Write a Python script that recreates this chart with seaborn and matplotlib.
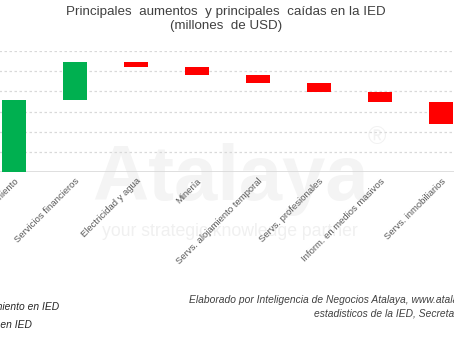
import numpy as np
import pandas as pd
import matplotlib
matplotlib.use("Agg")
import matplotlib.pyplot as plt
import matplotlib.patches as mpatches
import seaborn as sns

# ---- data (millones de USD) ----
categories = ["Crecimiento", "Servicios financieros", "Electricidad y agua", "Minería",
              "Servs. alojamiento temporal", "Servs. profesionales",
              "Inform. en medios masivos", "Servs. inmobiliarios"]
changes = [1780, 955, -135, -185, -205, -235, -245, -530]
legend_labels = ["Crecimiento en IED", "Caída en IED"]
title_text = "Principales  aumentos  y principales  caídas en la IED\n(millones  de USD)"
source_line1 = "Elaborado por Inteligencia de Negocios Atalaya, www.atalaya.co.cr, con base en datos"
source_line2 = "estadisticos de la IED, Secretaría Técnica"

sns.set_style("white")
plt.rcParams["font.family"] = ["Liberation Sans", "DejaVu Sans"]

GREEN = "#00b050"
RED = "#ff0000"

# waterfall geometry
chg = np.array(changes, dtype=float)
ends = np.cumsum(chg)
starts = ends - chg
lows = np.minimum(starts, ends)
heights = np.abs(chg)
df = pd.DataFrame({"cat": categories, "low": lows, "h": heights,
                   "kind": np.where(chg >= 0, "up", "down")})

fig = plt.figure(figsize=(4.54, 3.41), dpi=100)
W, H = 454, 341
ax = fig.add_axes([-16.5 / W, 168.7 / H, 488 / W, 121.3 / H])
ax.set_facecolor("none")

# faint watermark (behind the axes)
fig.text(230 / W, 1 - 200 / H, "Atalaya", fontsize=56, fontweight="bold", color="#f4f4f4",
         ha="center", va="baseline", zorder=-2)
fig.text(377 / W, 1 - 137 / H, "®", fontsize=18, color="#f2f2f2", ha="center", va="center",
         zorder=-2)
fig.text(230 / W, 1 - 232 / H, "your strategic knowledge partner", fontsize=12.7,
         color="#f0f0f0", ha="center", va="center", zorder=-2)

up = df[df.kind == "up"]
down = df[df.kind == "down"]
sns.barplot(data=up, x="cat", y="h", order=categories, color=GREEN, width=0.4,
            bottom=up["low"].values, saturation=1, ax=ax, zorder=3, linewidth=0)
sns.barplot(data=down, x="cat", y="h", order=categories, color=RED, width=0.4,
            bottom=down["low"].values, saturation=1, ax=ax, zorder=3, linewidth=0)

ax.set_xlim(-0.5, 7.5)
ax.set_ylim(0, 3000)
ax.set_yticks(np.arange(500, 3001, 500))
ax.yaxis.grid(True, color="#d9d9d9", linestyle=(0, (2, 2)), linewidth=0.9, zorder=0)
ax.set_axisbelow(True)
ax.tick_params(axis="y", left=False, labelleft=False)
ax.axhline(0, color="#d9d9d9", linewidth=1.2, zorder=2)
for s in ["top", "right", "left", "bottom"]:
    ax.spines[s].set_visible(False)
ax.set_xlabel("")
ax.set_ylabel("")
ax.tick_params(axis="x", length=0, pad=3)
ax.set_xticks(range(len(categories)))
ax.set_xticklabels(categories, rotation=45, ha="right", rotation_mode="anchor",
                   fontsize=6.8, color="#595959")

fig.text(0.497, 1 - 6 / H, title_text, ha="center", va="top", fontsize=9.6,
         color="#404040", linespacing=1.2)

handles = [mpatches.Patch(color=GREEN), mpatches.Patch(color=RED)]
fig.legend(handles, legend_labels, loc="upper left", bbox_to_anchor=(-48 / W, 1 - 302 / H),
           frameon=False, borderpad=0, borderaxespad=0, handlelength=1.0,
           handletextpad=0.8, labelspacing=0.75,
           prop={"style": "italic", "size": 7.4})

fig.text(189 / W, 1 - 300 / H, source_line1, ha="left", va="center", fontsize=7.4,
         style="italic", color="#404040")
fig.text(314 / W, 1 - 313 / H, source_line2, ha="left", va="center", fontsize=7.4,
         style="italic", color="#404040")

fig.savefig("out.png", dpi=100)
